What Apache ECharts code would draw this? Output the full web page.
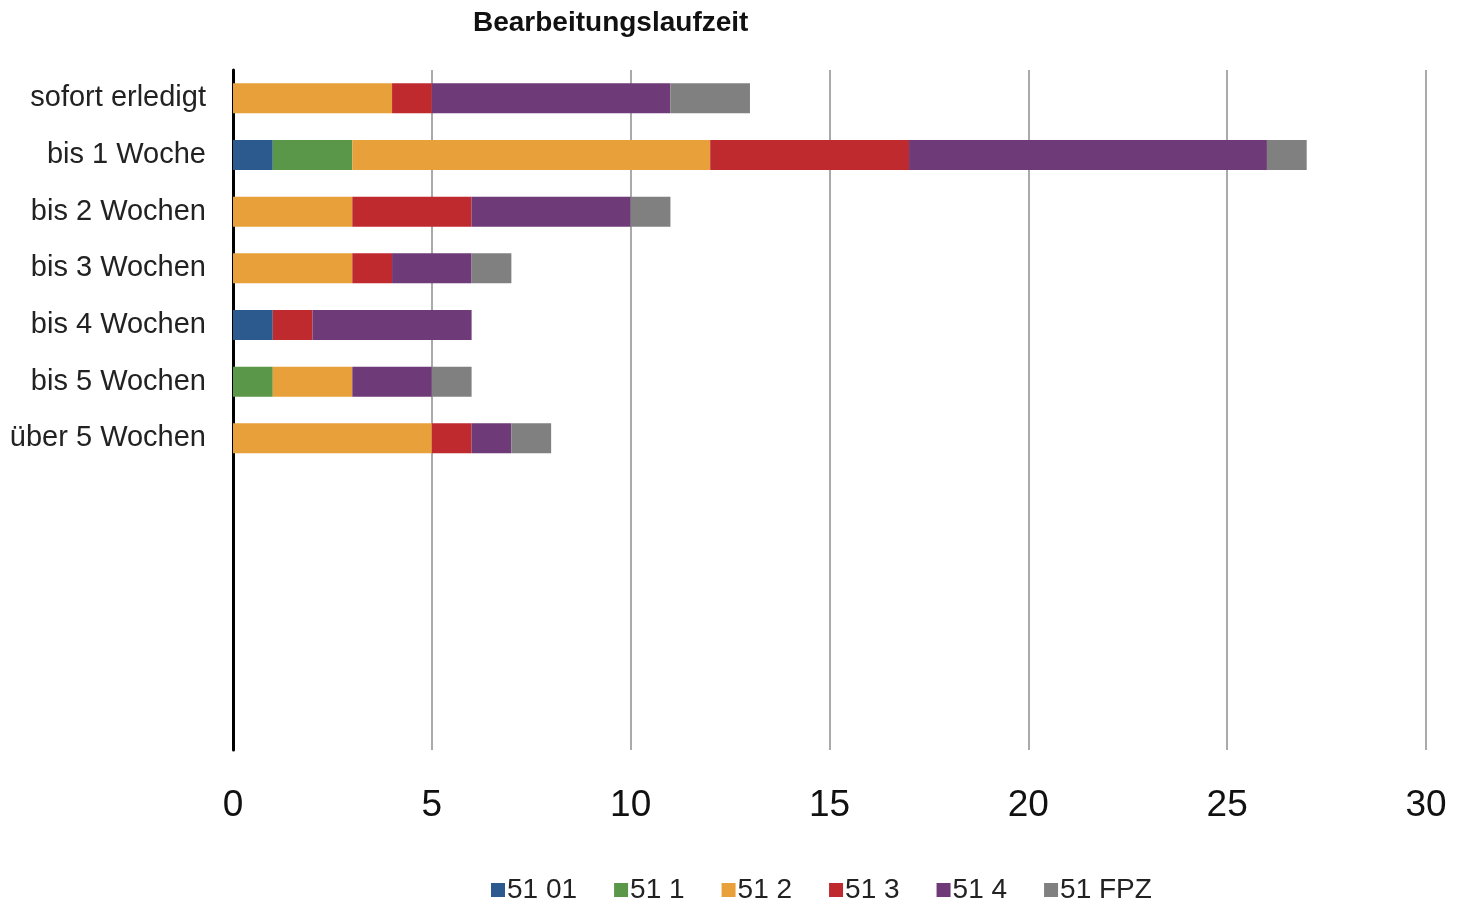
<!DOCTYPE html>
<html>
<head>
<meta charset="utf-8">
<script src="https://cdn.jsdelivr.net/npm/echarts@6/dist/echarts.min.js"></script>
<style>
  html, body { margin: 0; padding: 0; background: #fff; }
  #chart { width: 1458px; height: 901px; }
</style>
</head>
<body>
<div id="chart"></div>
<script>
// Kategorien (y-Achse) und Werte je Bereich
const categories = ['sofort erledigt', 'bis 1 Woche', 'bis 2 Wochen', 'bis 3 Wochen', 'bis 4 Wochen', 'bis 5 Wochen', 'über 5 Wochen']
const seriesNames = ['51 01', '51 1', '51 2', '51 3', '51 4', '51 FPZ']
const v5101 = [0, 1, 0, 0, 1, 0, 0]
const v511 = [0, 2, 0, 0, 0, 1, 0]
const v512 = [4, 9, 3, 3, 0, 2, 5]
const v513 = [1, 5, 3, 1, 1, 0, 1]
const v514 = [6, 9, 4, 2, 4, 2, 1]
const v51fpz = [2, 1, 1, 1, 0, 1, 1]
const xTicks = [0, 5, 10, 15, 20, 25, 30]

const colors = ['#2d5a8e', '#5b9749', '#e8a03b', '#bf2a2e', '#6e3a77', '#808080']
const values = [v5101, v511, v512, v513, v514, v51fpz]
const font = "'Liberation Sans', Arial, sans-serif"

const chart = echarts.init(document.getElementById('chart'))
const option = {
  animation: false,
  title: {
    text: 'Bearbeitungslaufzeit',
    left: 468,
    top: 4,
    textStyle: { fontFamily: font, fontSize: 28, fontWeight: 'bold', color: '#111' }
  },
  legend: {
    data: seriesNames,
    left: 486,
    top: 871,
    itemWidth: 14,
    itemHeight: 14,
    itemGap: 37,
    icon: 'rect',
    textStyle: { fontFamily: font, fontSize: 28, color: '#222', padding: [0, 0, 0, -3] }
  },
  grid: {
    left: 233,
    right: 32,
    top: 70,
    bottom: 151,
    containLabel: false
  },
  xAxis: {
    type: 'value',
    min: xTicks[0],
    max: xTicks[xTicks.length - 1],
    interval: 5,
    axisLine: { show: false },
    axisTick: { show: false },
    axisLabel: { fontFamily: font, fontSize: 37, color: '#111', margin: 37 },
    splitLine: { lineStyle: { color: '#aaaaaa', width: 2 } }
  },
  yAxis: {
    type: 'category',
    inverse: true,
    data: categories,
    max: 11,
    axisLine: { show: true, onZero: false, lineStyle: { color: '#000', width: 3 } },
    axisTick: { show: false },
    axisLabel: { fontFamily: font, fontSize: 29, color: '#222', margin: 27, padding: [8, 0, 0, 0] }
  },
  series: seriesNames.map((name, i) => ({
    name: name,
    type: 'bar',
    stack: 'total',
    barWidth: 30,
    itemStyle: { color: colors[i] },
    data: values[i].map(v => (v === 0 ? null : v))
  }))
}
chart.setOption(option)
</script>
</body>
</html>
